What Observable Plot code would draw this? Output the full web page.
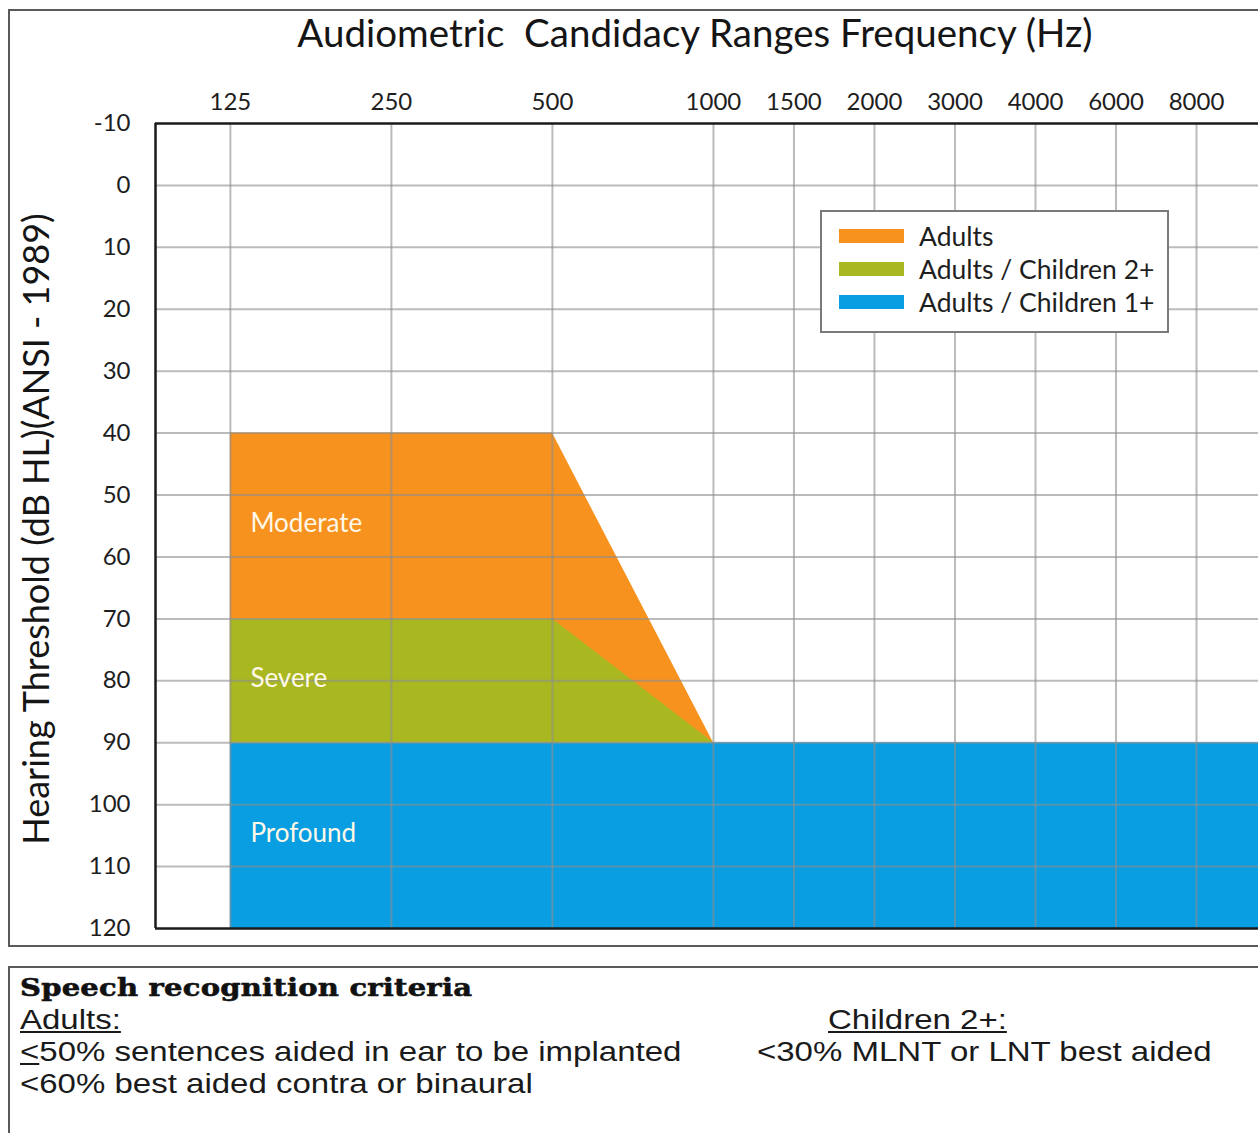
<!DOCTYPE html>
<html>
<head>
<meta charset="utf-8">
<script src="https://cdn.jsdelivr.net/npm/d3@7"></script>
<script src="https://cdn.jsdelivr.net/npm/@observablehq/plot@0.6"></script>
<style>
  html, body { margin: 0; padding: 0; background: #fff; }
  #page { position: relative; width: 1258px; height: 1133px; overflow: hidden; background: #fff; font-family: Lato, "Open Sans", sans-serif; }
  #plot { position: absolute; left: 0; top: 0; }
  .line { position: absolute; background: #5a5a5a; }
  #title { position: absolute; left: 0; width: 1390px; top: 9px; text-align: center; font-size: 38.5px; color: #151515; white-space: pre; }
  #ylabel { position: absolute; left: 35px; top: 529px; transform: translate(-50%, -50%) rotate(-90deg); font-size: 36px; color: #151515; white-space: nowrap; }
  #legend { position: absolute; left: 820px; top: 210px; width: 345px; height: 119px; border: 2px solid #7a7a7a; background: #fff; box-sizing: content-box; }
  .lrow { position: absolute; left: 0; height: 30px; display: flex; align-items: center; }
  .sw { width: 65px; height: 14px; margin-left: 17px; margin-right: 15px; }
  .lt { font-size: 26.5px; color: #1e1e1e; white-space: nowrap; }
  .crit { position: absolute; font-family: "Liberation Sans", Arial, sans-serif; font-size: 27.5px; line-height: normal; color: #1a1a1a; white-space: nowrap; letter-spacing: 0; transform: scaleX(1.2); transform-origin: 0 50%; }
  #crithead { position: absolute; left: 20px; top: 973px; font-family: "DejaVu Serif", serif; font-weight: 900; font-size: 25px; line-height: normal; color: #111; white-space: nowrap; letter-spacing: 0.2px; -webkit-text-stroke: 0.6px #111; transform: scaleX(1.16); transform-origin: 0 50%; }
  u { text-decoration-thickness: 2px; text-underline-offset: 2px; }
</style>
</head>
<body>
<div id="page">
  <div id="plot"></div>
  <div class="line" style="left:8px; top:9px; width:1250px; height:2px;"></div>
  <div class="line" style="left:8px; top:9px; width:2px; height:938px;"></div>
  <div class="line" style="left:8px; top:945px; width:1250px; height:2px;"></div>
  <div class="line" style="left:8px; top:966px; width:1250px; height:2px;"></div>
  <div class="line" style="left:8px; top:966px; width:2px; height:170px;"></div>
  <div id="title"></div>
  <div id="ylabel"></div>
  <div id="legend"></div>
  <div id="crithead"></div>
  <div id="critText"></div>
</div>
<script>
// ---------- Data ----------
const titleText = "Audiometric  Candidacy Ranges Frequency (Hz)";
const yLabelText = "Hearing Threshold (dB HL)(ANSI - 1989)";

// Audiogram frequencies (Hz) shown on the top axis
const freqTicks = [125, 250, 500, 1000, 1500, 2000, 3000, 4000, 6000, 8000];
// Hearing level ticks (dB HL)
const dbTicks = [-10, 0, 10, 20, 30, 40, 50, 60, 70, 80, 90, 100, 110, 120];

// Candidacy series
const seriesNames = ["Adults", "Adults / Children 2+", "Adults / Children 1+"];
const seriesColors = ["#f7921f", "#a9b821", "#099ee2"];

// Adults (orange): upper boundary
const adultsHz = [125, 500, 1000];
const adultsTopDb = [40, 40, 90];
const adultsBottomDb = [90, 90, 90];
// Adults / Children 2+ (green)
const children2Hz = [125, 500, 1000];
const children2TopDb = [70, 70, 90];
const children2BottomDb = [90, 90, 90];
// Adults / Children 1+ (blue)
const children1Hz = [125, 10000];
const children1TopDb = [90, 90];
const children1BottomDb = [120, 120];

// Degree-of-loss bands
const bandNames = ["Moderate", "Severe", "Profound"];
const bandEdgesDb = [40, 70, 90, 120];

// Speech recognition criteria text
const critHeading = "Speech recognition criteria";
const adultsHeading = "Adults:";
const adultsCriteria = ["50% sentences aided in ear to be implanted", "<60% best aided contra or binaural"];
const childrenHeading = "Children 2+:";
const childrenCriteria = ["<30% MLNT or LNT best aided"];

// ---------- Audiogram x positions (half-octave grid) ----------
const unit = d3.scaleLinear()
  .domain(freqTicks)
  .range(freqTicks.map(f => Math.round(2 * Math.log2(f / 125))));
const unitToLabel = new Map(freqTicks.map(f => [unit(f), String(f)]));

function rows(hz, top, bottom) {
  return hz.map((h, i) => ({hz: h, top: top[i], bottom: bottom[i]}));
}
const adultsRows = rows(adultsHz, adultsTopDb, adultsBottomDb);
const children2Rows = rows(children2Hz, children2TopDb, children2BottomDb);
const children1Rows = rows(children1Hz, children1TopDb, children1BottomDb);
const bandLabels = bandNames.map((name, i) => ({name, hz: freqTicks[0], db: (bandEdgesDb[i] + bandEdgesDb[i + 1]) / 2}));

const gridColor = "#8e8e8e";

const chart = Plot.plot({
  width: 1258,
  height: 946,
  marginTop: 123,
  marginBottom: 18,
  marginLeft: 155,
  marginRight: 0,
  style: {background: "transparent", fontFamily: "Lato, 'Open Sans', sans-serif", fontSize: "24px", color: "#1e1e1e", overflow: "visible"},
  x: {domain: [-0.93, 12.77]},
  y: {domain: [-10, 120], reverse: true},
  marks: [
    Plot.areaY(children1Rows, {x: d => unit(d.hz), y1: "bottom", y2: "top", fill: seriesColors[2], clip: true}),
    Plot.areaY(adultsRows, {x: d => unit(d.hz), y1: "bottom", y2: "top", fill: seriesColors[0], clip: true}),
    Plot.areaY(children2Rows, {x: d => unit(d.hz), y1: "bottom", y2: "top", fill: seriesColors[1], clip: true}),
    Plot.ruleY(dbTicks.filter(d => d > -10 && d < 120), {stroke: gridColor, strokeWidth: 2, strokeOpacity: 0.6}),
    Plot.ruleX(freqTicks, {x: d => unit(d), y1: -10, y2: 120, stroke: gridColor, strokeWidth: 2, strokeOpacity: 0.6}),
    Plot.ruleY([-10, 120], {stroke: "#1a1a1a", strokeWidth: 2.5}),
    Plot.ruleX([-0.93], {y1: -10, y2: 120, stroke: "#1a1a1a", strokeWidth: 2.5}),
    Plot.text(bandLabels, {x: d => unit(d.hz), y: "db", text: "name", textAnchor: "start", dx: 20, dy: -2, fill: "#fff8e8", fontSize: 26}),
    Plot.axisX(freqTicks.map(unit), {anchor: "top", tickSize: 0, tickPadding: 14, tickFormat: u => unitToLabel.get(u), label: null, fontSize: 24}),
    Plot.axisY(dbTicks, {anchor: "left", tickSize: 0, tickPadding: 25, tickFormat: d => String(d), label: null, fontSize: 24})
  ]
});
document.getElementById("plot").appendChild(chart);

// Title and y label
document.getElementById("title").textContent = titleText;
document.getElementById("ylabel").textContent = yLabelText;

// Legend
const legend = document.getElementById("legend");
seriesNames.forEach((name, i) => {
  const row = document.createElement("div");
  row.className = "lrow";
  row.style.top = (9 + i * 33) + "px";
  const sw = document.createElement("div");
  sw.className = "sw";
  sw.style.background = seriesColors[i];
  const t = document.createElement("span");
  t.className = "lt";
  t.textContent = name;
  row.appendChild(sw);
  row.appendChild(t);
  legend.appendChild(row);
});

// Criteria box
document.getElementById("crithead").textContent = critHeading;
const crit = document.getElementById("critText");
function addCrit(html, left, top) {
  const d = document.createElement("div");
  d.className = "crit";
  d.style.left = left + "px";
  d.style.top = top + "px";
  d.innerHTML = html;
  crit.appendChild(d);
}
addCrit("<u>" + adultsHeading + "</u>", 20, 1004);
addCrit("<u>&lt;</u>" + adultsCriteria[0], 20, 1036);
addCrit(adultsCriteria[1].replace("<", "&lt;"), 20, 1068);
addCrit("<u>" + childrenHeading + "</u>", 828, 1004);
addCrit(childrenCriteria[0].replace("<", "&lt;"), 757, 1036);
</script>
</body>
</html>
